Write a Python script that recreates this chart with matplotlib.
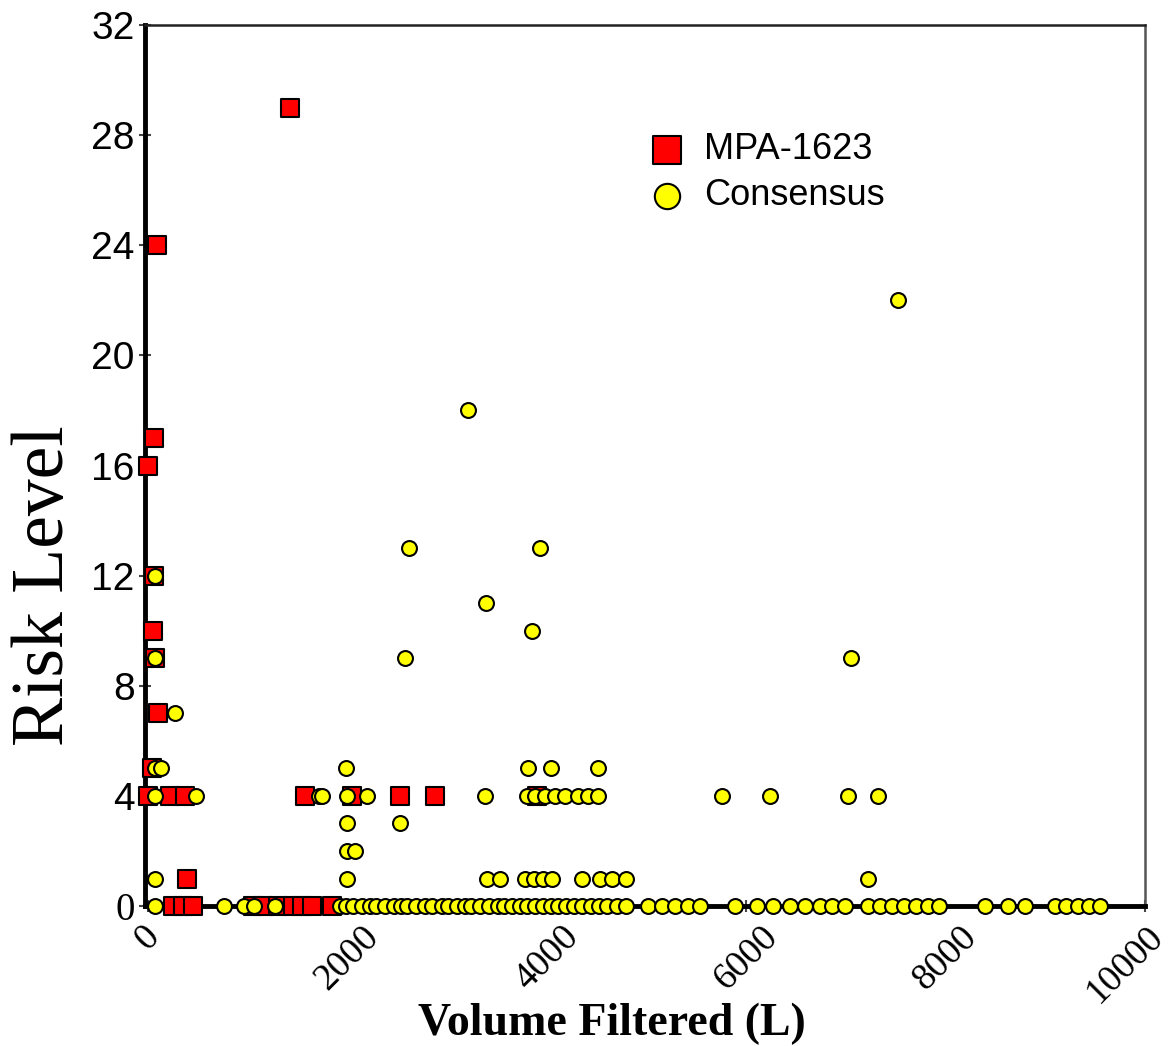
import numpy as np
import matplotlib
matplotlib.use("Agg")
import matplotlib.pyplot as plt
import matplotlib.transforms as mtransforms

# MPA-1623 results: volume filtered (L) and risk level
mpa_volume = [1420, 90, 60, 0, 50, 70, 100, 40,
              0, 220, 370, 1575, 2050, 2530, 2880, 3900,
              390, 60,
              250, 350, 450, 1050, 1150, 1300, 1450, 1550, 1650, 1850]
mpa_risk = [29, 24, 17, 16, 10, 9, 7, 5,
            4, 4, 4, 4, 4, 4, 4, 4,
            1, 12,
            0, 0, 0, 0, 0, 0, 0, 0, 0, 0]

# Consensus results
cons_volume = [7520, 3210, 2620, 3930, 3390, 3850, 2580, 7050, 70, 70, 270,
               # risk 5
               70, 130, 1990, 3810, 4040, 4510,
               # risk 4
               70, 480, 1715, 1745, 1996, 2196, 3380, 3800, 3880, 3980, 4080,
               4180, 4310, 4410, 4510, 5760, 6240, 7020, 7320,
               # risk 3, 2
               1996, 2528, 1996, 2080,
               # risk 1
               70, 1996, 3400, 3530, 3780, 3870, 3960, 4050, 4350, 4530,
               4650, 4800, 7220,
               # risk 0
               70, 760, 960, 1060, 1270, 1930, 1990, 2060, 2150, 2230, 2290,
               2380, 2470, 2540, 2600, 2690, 2780, 2850, 2950, 3010, 3100,
               3180, 3240, 3330, 3420, 3510, 3570, 3650, 3730, 3800, 3880,
               3960, 4040, 4110, 4190, 4270, 4350, 4440, 4520, 4600, 4700,
               4800, 5015, 5155, 5285, 5415, 5536, 5890, 6110, 6270, 6440,
               6590, 6740, 6860, 6990, 7220, 7340, 7460, 7580, 7700, 7820,
               7940, 8395, 8625, 8800, 9100, 9210, 9330, 9440, 9550]
cons_risk = [22, 18, 13, 13, 11, 10, 9, 9, 12, 9, 7,
             5, 5, 5, 5, 5, 5,
             4, 4, 4, 4, 4, 4, 4, 4, 4, 4, 4,
             4, 4, 4, 4, 4, 4, 4, 4,
             3, 3, 2, 2,
             1, 1, 1, 1, 1, 1, 1, 1, 1, 1,
             1, 1, 1] + [0] * 70

x_ticks = [0, 2000, 4000, 6000, 8000, 10000]
y_ticks = [0, 4, 8, 12, 16, 20, 24, 28, 32]

fig = plt.figure(figsize=(11.73, 10.46), dpi=100)
ax = fig.add_axes([0.1236, 0.1338, 0.8524, 0.8423])

ax.scatter(mpa_volume, mpa_risk, marker="s", s=150, c="#ff0000",
           edgecolors="black", linewidths=1.5, label="MPA-1623",
           clip_on=False, zorder=3)
ax.scatter(cons_volume, cons_risk, marker="o", s=115, c="#ffff00",
           edgecolors="black", linewidths=1.5, label="Consensus",
           clip_on=False, zorder=4)

ax.set_xlim(-30, 10000)
ax.set_ylim(0, 32)

ax.spines["left"].set_linewidth(3.5)
ax.spines["bottom"].set_linewidth(3.5)
ax.spines["top"].set_linewidth(1.8)
ax.spines["right"].set_linewidth(1.8)
ax.spines["right"].set_color("#555555")
ax.spines["top"].set_color("#222222")
for sp in ax.spines.values():
    sp.set_zorder(2)

ax.set_yticks(y_ticks)
ax.set_yticklabels([str(v) for v in y_ticks], fontsize=28,
                   fontfamily="Liberation Sans")
ax.get_yticklabels()[0].set_fontfamily("Liberation Serif")
ax.set_xticks(x_ticks)
ax.set_xticklabels([str(v) for v in x_ticks], fontsize=27,
                   fontfamily="Liberation Serif", rotation=45,
                   ha="center", va="top")
ax.tick_params(axis="both", direction="inout", length=9, width=1.5,
               color="#444444")
ax.tick_params(axis="y", pad=3)
ax.tick_params(axis="x", pad=5)

# pull the last x label back inside the figure edge
last = ax.get_xticklabels()[-1]
shift = mtransforms.ScaledTranslation(-0.2, 0, fig.dpi_scale_trans)
last.set_transform(last.get_transform() + shift)

ax.set_xlabel("Volume Filtered (L)", fontsize=33, fontweight="bold",
              fontfamily="Liberation Serif", va="center")
ax.xaxis.set_label_coords(0.467, -0.134)
ax.set_ylabel("Risk Level", fontsize=53, fontfamily="Liberation Serif",
              va="center")
ax.yaxis.set_label_coords(-0.1, 0.364)

leg = ax.legend(loc="upper left", bbox_to_anchor=(0.453, 0.915), frameon=False,
                markerscale=1.7, handletextpad=0.05, labelspacing=0.3,
                prop={"family": "Liberation Sans", "size": 26})

fig.savefig("out.png", dpi=100)
